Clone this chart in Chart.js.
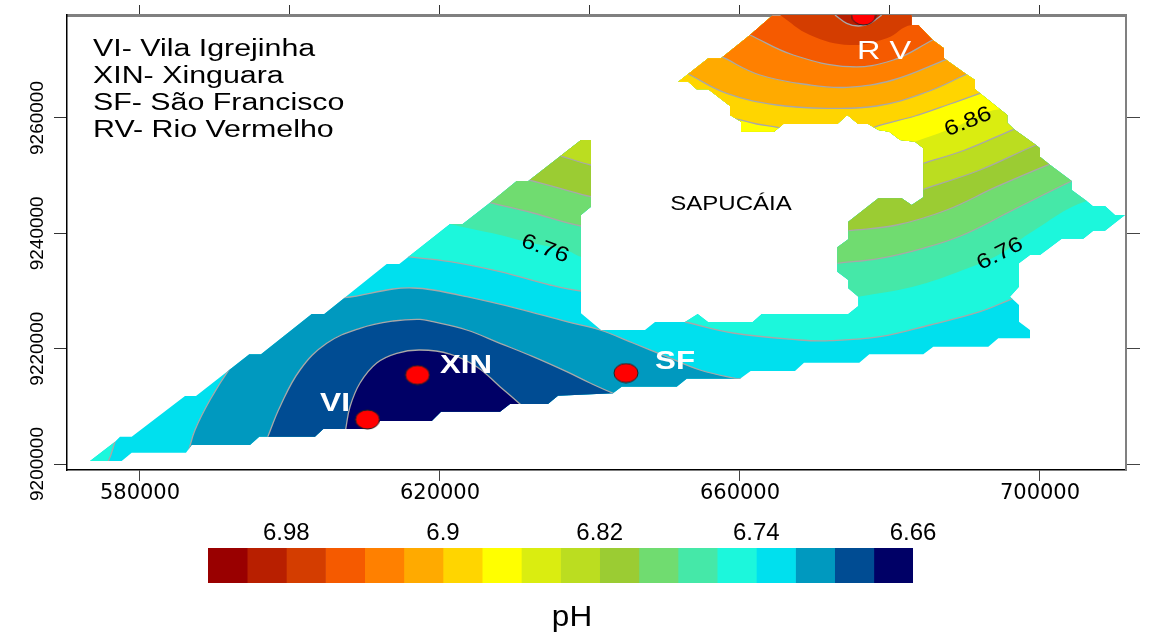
<!DOCTYPE html>
<html lang="pt">
<head>
  <meta charset="UTF-8" />
  <title>pH</title>
  <script src="https://cdn.jsdelivr.net/npm/chart.js"></script>
  <style>
    body { margin: 0; background: #fff; }
    canvas { position: absolute; left: 0; }
    #mapChart { top: 0; }
    #scaleChart { top: 510px; }
  </style>
</head>
<body>
  <canvas id="mapChart" width="1174" height="510"></canvas>
  <canvas id="scaleChart" width="1174" height="124"></canvas>

  <script>
    // map extent (UTM metres)
    const xMin = 570267, xMax = 711467, yMin = 9198960, yMax = 9277857;
    const xLabelTicks = [580000, 620000, 660000, 700000];
    const xTopTicks = [580000, 600000, 620000, 640000, 660000, 680000, 700000];
    const yTicks = [9200000, 9220000, 9240000, 9260000];

    // edge of the interpolated area
    const outline = [
      [573333,9200520],[576667,9203867],[577333,9204734],[578893,9204734],[586000,9211791],[587467,9211791],
      [594573,9219022],[596133,9219022],[602893,9226010],[604573,9226010],[612893,9234680],[614573,9234680],
      [621333,9241616],[623027,9241616],[626667,9245309],[630227,9249072],[631773,9249072],[638800,9256182],
      [640133,9256182],[640133,9244616],[638800,9243177],[638800,9226131],[641467,9223236],[647333,9223236],
      [648667,9224623],[652667,9224623],[654360,9226010],[655733,9224623],[661693,9224623],[662893,9226010],
      [674440,9226010],[675773,9227397],[675773,9229010],[674440,9230466],[674440,9231906],[672973,9233345],
      [672973,9237576],[674440,9238963],[674440,9242015],[678440,9246072],[681560,9246072],[682893,9244911],
      [684440,9246246],[684440,9254742],[683333,9255887],[681333,9256182],[679907,9257621],[678440,9257916],
      [677107,9258956],[675773,9258956],[674307,9260517],[672973,9258956],[665773,9258956],[664533,9257621],
      [660133,9257621],[660133,9259355],[658667,9260517],[658667,9262077],[655773,9264973],[654227,9264973],
      [653107,9266291],[651773,9266291],[655773,9270348],[657467,9270348],[661333,9274389],[664400,9277857],
      [682893,9277857],[682893,9276123],[683773,9276123],[685693,9273522],[687200,9272082],[687200,9270348],
      [690000,9267747],[691333,9266586],[691333,9264973],[694667,9261505],[695640,9260517],[695640,9259181],
      [696533,9258037],[699467,9255315],[700000,9254742],[700000,9253286],[701240,9251968],[704227,9249072],
      [704227,9247512],[706227,9245604],[707027,9244737],[708667,9244737],[710000,9243177],[711333,9243177],
      [708667,9240454],[707107,9240454],[705773,9239067],[702893,9239067],[700000,9236241],[698667,9236241],
      [697200,9234801],[697200,9230744],[696000,9229010],[697200,9227571],[697200,9224675],[698667,9223236],
      [698667,9221796],[694440,9221796],[693107,9220340],[685773,9220340],[684440,9219022],[677240,9219022],
      [675907,9217565],[668533,9217565],[667333,9216126],[661427,9216126],[660000,9214791],[652893,9214791],
      [651560,9213404],[644227,9213404],[643067,9212259],[635733,9211843],[634400,9210404],[629333,9210404],
      [628000,9209069],[620133,9209069],[618893,9207456],[612000,9207456],[610667,9206069],[604440,9206069],
      [603333,9204734],[595907,9204734],[594667,9203295],[586893,9203295],[586133,9201959],[578893,9201959],
      [577560,9200520]
    ];

    // pH bands, each one a contour closed outside the interpolated area
    const bandBase = [[xMin,yMin],[xMax,yMin],[xMax,yMax],[xMin,yMax]];
    const band15 = [
      [586440,9202081],[587333,9205896],[589333,9211098],[592000,9216646],[598667,9228438],[607240,9228836],
      [613733,9230345],[616400,9230518],[619067,9230172],[623560,9229010],[630227,9226998],[636893,9224675],
      [641333,9223236],[645733,9220981],[650227,9218606],[654667,9216300],[659333,9214860],[662000,9214300],
      [662000,9198960],[586400,9198960]
    ];
    const band16 = [
      [597027,9204682],[598667,9209936],[601333,9216300],[604893,9220929],[609333,9223530],[613773,9224796],
      [617333,9225091],[619067,9224675],[623560,9223236],[628000,9220929],[632400,9218606],[636893,9216005],
      [640000,9214045],[643107,9212259],[645000,9211400],[645000,9198960],[597027,9198960]
    ];
    const band17 = [
      [607427,9206069],[608000,9209936],[609333,9214045],[611560,9217513],[614227,9219195],[617333,9219768],
      [621333,9219074],[624893,9216872],[628000,9213404],[630667,9210404],[632000,9208900],[632000,9198960],[607427,9198960]
    ];
    const band13Tip = [[576667,9203867],[575773,9200520],[574667,9198960],[570667,9198960],[570667,9205896],[576667,9205896]];
    const band13West = [
      [615560,9235946],[621333,9235079],[628000,9233345],[634667,9231039],[638800,9229998],[641333,9229998],
      [641333,9257916],[614667,9257916],[614667,9237108]
    ];
    const band12West = [
      [621200,9241616],[628000,9239709],[631067,9238668],[637067,9236934],[638800,9235946],[641333,9235894],
      [641333,9257916],[620000,9257916],[620000,9241616]
    ];
    const band11West = [
      [626667,9245309],[632400,9243523],[638800,9241269],[641333,9241269],[641333,9257916],[625333,9257916],[625333,9245778]
    ];
    const band10West = [
      [631867,9249246],[636000,9247806],[640133,9246350],[641333,9246298],[641333,9257916],[630667,9257916],[630667,9249246]
    ];
    const band9West = [
      [636133,9253407],[640133,9251847],[641333,9251847],[641333,9257916],[635333,9257916],[635333,9253407]
    ];
    const band13East = [
      [652667,9224623],[659067,9222715],[668000,9221502],[672000,9221380],[678667,9222074],[685333,9224103],
      [692000,9226409],[696133,9228559],[699000,9230000],[711467,9230000],[711467,9277857],[650667,9277857],[650667,9228438]
    ];
    const band12East = [
      [675773,9229010],[683067,9230744],[689733,9233640],[694667,9236414],[698667,9240055],[706227,9245604],
      [711467,9245604],[711467,9277857],[650667,9277857],[650667,9229010]
    ];
    const band11East = [
      [672973,9234801],[678667,9235668],[684400,9237402],[689733,9239709],[696400,9244044],[704227,9249072],
      [707000,9250600],[711467,9250600],[711467,9277857],[650667,9277857],[650667,9234801]
    ];
    const band10East = [
      [674440,9240454],[680893,9241443],[687560,9244044],[694227,9248084],[701240,9251968],
      [704000,9253200],[711467,9253200],[711467,9277857],[650667,9277857],[650667,9240454]
    ];
    const band9East = [
      [684440,9247633],[692000,9250980],[699467,9255315],[702000,9256400],[711467,9256400],
      [711467,9277857],[650667,9277857],[650667,9247633]
    ];
    const band8 = [
      [684440,9252141],[690000,9254448],[696533,9258037],[699000,9259200],[711467,9259200],
      [711467,9277857],[650667,9277857],[650667,9252141]
    ];
    const band7 = [
      [683333,9255887],[688400,9258262],[694667,9261505],[711467,9261505],[711467,9277857],[650667,9277857],[650667,9255887]
    ];
    const band6 = [
      [659200,9259944],[662227,9258956],[665200,9258314],[668000,9257049],[676000,9257049],[677867,9258384],
      [683333,9260343],[688000,9262424],[692000,9264279],[696000,9266000],[711467,9266000],
      [711467,9277857],[650667,9277857],[650667,9259944]
    ];
    const band5 = [
      [653107,9267626],[658227,9264279],[664893,9262251],[671560,9261678],[678227,9262077],[684893,9264505],
      [690000,9267453],[693000,9269200],[711467,9269200],[711467,9277857],[650667,9277857],[650667,9267626]
    ];
    const band4 = [
      [657560,9270626],[662667,9267453],[669333,9265719],[674227,9265320],[680400,9266586],[687560,9270175],
      [690000,9271400],[711467,9271400],[711467,9277857],[650667,9277857],[650667,9270626]
    ];
    const band3 = [
      [661333,9274389],[667107,9270921],[674667,9268892],[680440,9270054],[685693,9273522],
      [688000,9275000],[711467,9275000],[711467,9277857],[650667,9277857],[650667,9274389]
    ];
    const band2 = [
      [665333,9277857],[669333,9274389],[674667,9272655],[679560,9273816],[682893,9276123],[694667,9276123],[694667,9277857]
    ];
    const band1 = [[672667,9277857],[674227,9276417],[675773,9275949],[677333,9276417],[678893,9277857]];

    // sampling sites
    const siteX = [610333, 617000, 644800, 676467];
    const siteY = [9207716, 9215433, 9215779, 9277770];

    // colour scale
    const phLevels = [7.00, 6.98, 6.96, 6.94, 6.92, 6.90, 6.88, 6.86, 6.84, 6.82, 6.80, 6.78, 6.76, 6.74, 6.72, 6.70, 6.68, 6.66];
    const phColors = ["#990000", "#b81f00", "#d43d00", "#f55a00", "#ff8000", "#ffaa00", "#ffd500", "#ffff00", "#daed10",
      "#bbdd20", "#9bcc33", "#70dc70", "#45e8a8", "#1cf7dc", "#00e0ee", "#0099bf", "#004c93", "#000066"];
    const phTicks = [6.98, 6.9, 6.82, 6.74, 6.66];

    const LINE = "#a8a8a8";
    const SANS = "'Liberation Sans', Arial, sans-serif";

    // drawn from the first entry to the last; the boolean says if the contour has a grey line
    const layers = [
      [bandBase, 14, false], [band15, 15, true], [band16, 16, true], [band17, 17, true], [band13Tip, 13, true],
      [band13West, 13, true], [band12West, 12, false], [band11West, 11, true], [band10West, 10, true], [band9West, 9, true],
      [band13East, 13, true], [band12East, 12, false], [band11East, 11, true], [band10East, 10, true], [band9East, 9, true],
      [band8, 8, true], [band7, 7, false], [band6, 6, true], [band5, 5, true], [band4, 4, true], [band3, 3, true],
      [band2, 2, false], [band1, 1, true]
    ];

    function toPoints(list) {
      return list.map(p => ({ x: p[0], y: p[1] }));
    }

    function setTicks(values) {
      return scale => { scale.ticks = values.map(value => ({ value })); };
    }

    function drawText(ctx, text, x, y, size, stretch, opts = {}) {
      ctx.save();
      ctx.translate(x, y);
      ctx.rotate((opts.angle || 0) * Math.PI / 180);
      ctx.scale(stretch, 1);
      ctx.font = (opts.bold ? "bold " : "") + size + "px " + SANS;
      ctx.fillStyle = opts.color || "#000";
      ctx.textAlign = opts.align || "center";
      ctx.textBaseline = "middle";
      ctx.fillText(text, 0, 0);
      ctx.restore();
    }

    // red site marker, wider than tall like in the map
    const dot = document.createElement("canvas");
    dot.width = 26;
    dot.height = 21;
    const dotCtx = dot.getContext("2d");
    dotCtx.beginPath();
    dotCtx.ellipse(13, 10.5, 12, 9.5, 0, 0, 2 * Math.PI);
    dotCtx.fillStyle = "#ff0000";
    dotCtx.fill();
    dotCtx.strokeStyle = "#222";
    dotCtx.lineWidth = 1;
    dotCtx.stroke();

    // bands are only painted inside the outline, sites (dataset 0, drawn last) are not clipped
    const outlineClip = {
      id: "outlineClip",
      beforeDatasetsDraw(chart) {
        const { ctx, scales } = chart;
        ctx.save();
        ctx.beginPath();
        outline.forEach((p, i) => {
          const px = scales.x.getPixelForValue(p[0]);
          const py = scales.y.getPixelForValue(p[1]);
          if (i === 0) ctx.moveTo(px, py); else ctx.lineTo(px, py);
        });
        ctx.closePath();
        ctx.clip();
      },
      beforeDatasetDraw(chart, args) {
        if (args.index === 0) chart.ctx.restore();
      }
    };

    const mapText = {
      id: "mapText",
      afterDatasetsDraw(chart) {
        const ctx = chart.ctx;
        drawText(ctx, "VI- Vila Igrejinha", 93, 50, 23, 1.32, { align: "left" });
        drawText(ctx, "XIN- Xinguara", 93, 77, 23, 1.32, { align: "left" });
        drawText(ctx, "SF- São Francisco", 93, 104, 23, 1.32, { align: "left" });
        drawText(ctx, "RV- Rio Vermelho", 93, 131, 23, 1.32, { align: "left" });
        drawText(ctx, "SAPUCÁIA", 731, 204, 20, 1.2);
        drawText(ctx, "6.76", 545, 249, 21, 1.2, { angle: 20 });
        drawText(ctx, "6.76", 1000, 254, 21, 1.2, { angle: -27 });
        drawText(ctx, "6.86", 968, 122, 21, 1.2, { angle: -22 });
        drawText(ctx, "XIN", 466, 366, 26, 1.2, { bold: true, color: "#fff" });
        drawText(ctx, "VI", 335, 404, 25, 1.27, { bold: true, color: "#fff" });
        drawText(ctx, "SF", 675, 362, 25, 1.25, { bold: true, color: "#fff" });
        drawText(ctx, "R V", 884, 52, 25, 1.3, { color: "#fff" });
      }
    };

    const datasets = [{
      data: siteX.map((x, i) => ({ x, y: siteY[i] })),
      showLine: false,
      pointStyle: dot,
      pointRadius: 11,
      clip: 0
    }];
    // the chart draws its last dataset first
    layers.slice().reverse().forEach(([points, colorIndex, hasLine]) => {
      datasets.push({
        data: toPoints(points),
        showLine: true,
        pointRadius: 0,
        fill: "shape",
        tension: 0.4,
        backgroundColor: phColors[colorIndex],
        borderColor: LINE,
        borderWidth: hasLine ? 1.3 : 0
      });
    });

    new Chart(document.getElementById("mapChart"), {
      type: "scatter",
      data: { datasets },
      plugins: [outlineClip, mapText],
      options: {
        responsive: false,
        animation: false,
        events: [],
        layout: { padding: 0 },
        plugins: { legend: { display: false }, tooltip: { enabled: false } },
        scales: {
          x: {
            type: "linear", position: "bottom", min: xMin, max: xMax,
            afterBuildTicks: setTicks(xLabelTicks),
            afterFit: s => { s.height = 40; },
            grid: { drawOnChartArea: false, tickLength: 11, tickColor: "#444" },
            border: { color: "#000", width: 1.5 },
            ticks: { color: "#000", maxRotation: 0, padding: 0, font: { family: "'DejaVu Sans'", size: 21 }, callback: v => String(v) }
          },
          xTop: {
            type: "linear", axis: "x", position: "top", min: xMin, max: xMax,
            afterBuildTicks: setTicks(xTopTicks),
            afterFit: s => { s.height = 15; },
            grid: { drawOnChartArea: false, tickLength: 10, tickColor: "#333" },
            border: { color: "#808080", width: 3 },
            ticks: { display: false }
          },
          y: {
            type: "linear", position: "left", min: yMin, max: yMax,
            afterBuildTicks: setTicks(yTicks),
            afterFit: s => { s.width = 67; },
            grid: { drawOnChartArea: false, tickLength: 13, tickColor: "#333" },
            border: { color: "#000", width: 1.5 },
            ticks: {
              color: "#000", minRotation: 90, maxRotation: 90, crossAlign: "center", padding: -21,
              font: { family: SANS, size: 19 }, callback: v => String(v)
            }
          },
          yRight: {
            type: "linear", axis: "y", position: "right", min: yMin, max: yMax,
            afterBuildTicks: setTicks(yTicks),
            afterFit: s => { s.width = 48; },
            grid: { drawOnChartArea: false, tickLength: 14, tickColor: "#444" },
            border: { color: "#808080", width: 2 },
            ticks: { display: false }
          }
        }
      }
    });

    const scaleText = {
      id: "scaleText",
      afterDraw(chart) {
        drawText(chart.ctx, "pH", 572, 108, 30, 1.05);
      }
    };

    new Chart(document.getElementById("scaleChart"), {
      type: "bar",
      data: {
        labels: ["pH"],
        datasets: phLevels.map((level, i) => ({
          data: [[level, level + 0.02]],
          backgroundColor: phColors[i],
          borderWidth: 0,
          grouped: false,
          barPercentage: 1,
          categoryPercentage: 1
        }))
      },
      plugins: [scaleText],
      options: {
        indexAxis: "y",
        responsive: false,
        animation: false,
        events: [],
        layout: { padding: { left: 208, right: 261, bottom: 51 } },
        plugins: { legend: { display: false }, tooltip: { enabled: false } },
        scales: {
          x: {
            type: "linear", position: "top", reverse: true, min: 6.66, max: 7.02,
            afterBuildTicks: setTicks(phTicks),
            afterFit: s => { s.height = 38; },
            grid: { display: false, drawTicks: false },
            border: { display: false },
            ticks: { color: "#000", maxRotation: 0, padding: 0, font: { family: SANS, size: 24 }, callback: v => String(v) }
          },
          y: { display: false }
        }
      }
    });
  </script>
</body>
</html>
